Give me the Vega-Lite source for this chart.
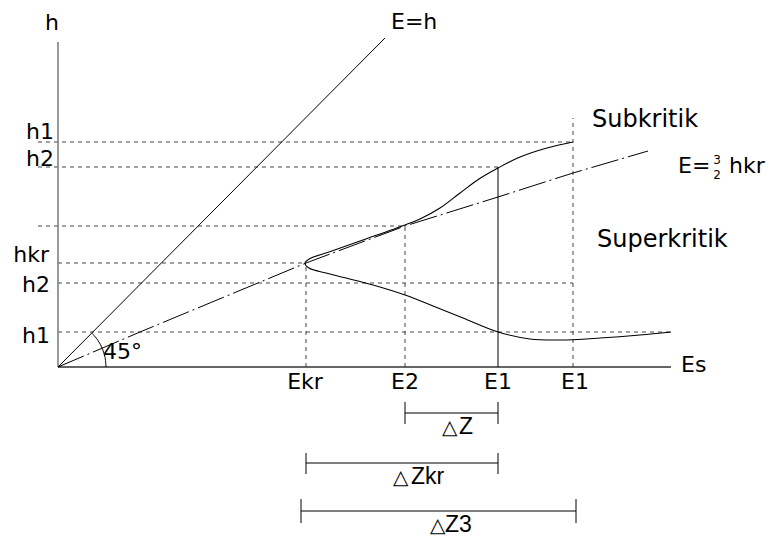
{
  "$schema": "https://vega.github.io/schema/vega-lite/v6.json",
  "width": 773,
  "height": 537,
  "autosize": {"type": "fit", "contains": "padding"},
  "padding": 0,
  "background": "white",
  "config": {"view": {"stroke": null}},
  "datasets": {
    "axes": [
      {"x1": 0, "y1": 0, "x2": 0, "y2": 325, "part": "y"},
      {"x1": 0, "y1": 0, "x2": 613, "y2": 0, "part": "x"}
    ],
    "solid": [
      {"x1": 0, "y1": 0, "x2": 327, "y2": 329},
      {"x1": 440, "y1": 0, "x2": 440, "y2": 200},
      {"x1": 347, "y1": -46, "x2": 440, "y2": -46},
      {"x1": 347, "y1": -35, "x2": 347, "y2": -57},
      {"x1": 440, "y1": -35, "x2": 440, "y2": -57},
      {"x1": 248, "y1": -96, "x2": 440, "y2": -96},
      {"x1": 248, "y1": -86, "x2": 248, "y2": -107},
      {"x1": 440, "y1": -86, "x2": 440, "y2": -107},
      {"x1": 243, "y1": -144, "x2": 518, "y2": -144},
      {"x1": 243, "y1": -132, "x2": 243, "y2": -156},
      {"x1": 518, "y1": -132, "x2": 518, "y2": -156}
    ],
    "dashed": [
      {"x1": -20, "y1": 225, "x2": 515, "y2": 225},
      {"x1": -20, "y1": 200, "x2": 440, "y2": 200},
      {"x1": -20, "y1": 141, "x2": 347, "y2": 141},
      {"x1": 0, "y1": 104, "x2": 248, "y2": 104},
      {"x1": 0, "y1": 84, "x2": 515, "y2": 84},
      {"x1": 0, "y1": 35, "x2": 613, "y2": 35},
      {"x1": 248, "y1": 0, "x2": 248, "y2": 104},
      {"x1": 347, "y1": 0, "x2": 347, "y2": 141},
      {"x1": 515, "y1": 0, "x2": 515, "y2": 249}
    ],
    "critical": [
      {"x": 0, "y": 0},
      {"x": 82, "y": 35},
      {"x": 248, "y": 104},
      {"x": 347, "y": 141},
      {"x": 440, "y": 170},
      {"x": 515, "y": 194},
      {"x": 590, "y": 216}
    ],
    "curve": [
      {"i": 1, "x": 515, "y": 225},
      {"i": 2, "x": 489, "y": 219},
      {"i": 3, "x": 462, "y": 210},
      {"i": 4, "x": 440, "y": 199},
      {"i": 5, "x": 421, "y": 188},
      {"i": 6, "x": 402, "y": 174},
      {"i": 7, "x": 382, "y": 159},
      {"i": 8, "x": 362, "y": 148},
      {"i": 9, "x": 347, "y": 142},
      {"i": 10, "x": 305, "y": 127},
      {"i": 11, "x": 271, "y": 115},
      {"i": 12, "x": 252, "y": 108.5},
      {"i": 13, "x": 247, "y": 104},
      {"i": 14, "x": 251, "y": 99},
      {"i": 15, "x": 268, "y": 94},
      {"i": 16, "x": 288, "y": 89},
      {"i": 17, "x": 315, "y": 82},
      {"i": 18, "x": 347, "y": 72},
      {"i": 19, "x": 375, "y": 61},
      {"i": 20, "x": 405, "y": 49},
      {"i": 21, "x": 440, "y": 35},
      {"i": 22, "x": 472, "y": 28},
      {"i": 23, "x": 502, "y": 27},
      {"i": 24, "x": 542, "y": 29},
      {"i": 25, "x": 582, "y": 32},
      {"i": 26, "x": 613, "y": 35}
    ],
    "arc": [
      {"i": 1, "x": 48, "y": 0},
      {"i": 2, "x": 47.1, "y": 9.4},
      {"i": 3, "x": 44.3, "y": 18.4},
      {"i": 4, "x": 39.9, "y": 26.7},
      {"i": 5, "x": 33.9, "y": 33.9}
    ],
    "leftLabels": [
      {"t": "h1", "x": -4, "y": 228},
      {"t": "h2", "x": -4, "y": 201},
      {"t": "hkr", "x": -9, "y": 105},
      {"t": "h2", "x": -8, "y": 75},
      {"t": "h1", "x": -8, "y": 24}
    ],
    "centerLabels": [
      {"t": "h", "x": -6, "y": 337},
      {"t": "Ekr", "x": 247, "y": -22},
      {"t": "E2", "x": 347, "y": -22},
      {"t": "E1", "x": 440, "y": -22},
      {"t": "E1", "x": 517, "y": -22}
    ],
    "startLabels": [
      {"t": "E=h", "x": 333, "y": 338},
      {"t": "45°", "x": 45, "y": 8},
      {"t": "Es", "x": 623, "y": -5},
      {"t": "E=", "x": 620, "y": 194},
      {"t": "hkr", "x": 671, "y": 194}
    ],
    "regionLabels": [
      {"t": "Subkritik", "x": 534, "y": 240},
      {"t": "Superkritik", "x": 539, "y": 120}
    ],
    "fraction": [
      {"t": "3", "x": 659, "y": 203},
      {"t": "2", "x": 659, "y": 188}
    ],
    "deltas": [
      {"x": 384, "y": -67},
      {"x": 335, "y": -117},
      {"x": 372, "y": -165}
    ],
    "deltaNames": [
      {"t": "Z", "x": 401, "y": -67},
      {"t": "Zkr", "x": 353, "y": -117},
      {"t": "Z3", "x": 387, "y": -165}
    ]
  },
  "encoding": {
    "x": {"field": "x", "type": "quantitative", "scale": {"domain": [-58, 715], "nice": false, "zero": false}, "axis": null},
    "y": {"field": "y", "type": "quantitative", "scale": {"domain": [-170, 367], "nice": false, "zero": false}, "axis": null}
  },
  "layer": [
    {
      "data": {"name": "dashed"},
      "mark": {"type": "rule", "color": "#444", "strokeWidth": 1, "strokeDash": [4, 4]},
      "encoding": {
        "x": {"field": "x1", "type": "quantitative", "scale": {"domain": [-58, 715], "nice": false, "zero": false}, "axis": null},
        "y": {"field": "y1", "type": "quantitative", "scale": {"domain": [-170, 367], "nice": false, "zero": false}, "axis": null},
        "x2": {"field": "x2"},
        "y2": {"field": "y2"}
      }
    },
    {
      "data": {"name": "axes"},
      "mark": {"type": "rule", "strokeWidth": 1.6},
      "encoding": {
        "x": {"field": "x1", "type": "quantitative", "scale": {"domain": [-58, 715], "nice": false, "zero": false}, "axis": null},
        "y": {"field": "y1", "type": "quantitative", "scale": {"domain": [-170, 367], "nice": false, "zero": false}, "axis": null},
        "x2": {"field": "x2"},
        "y2": {"field": "y2"},
        "color": {"field": "part", "type": "nominal", "scale": {"domain": ["x", "y"], "range": ["#333333", "#808080"]}, "legend": null}
      }
    },
    {
      "data": {"name": "solid"},
      "mark": {"type": "rule", "color": "#000", "strokeWidth": 1},
      "encoding": {
        "x": {"field": "x1", "type": "quantitative", "scale": {"domain": [-58, 715], "nice": false, "zero": false}, "axis": null},
        "y": {"field": "y1", "type": "quantitative", "scale": {"domain": [-170, 367], "nice": false, "zero": false}, "axis": null},
        "x2": {"field": "x2"},
        "y2": {"field": "y2"}
      }
    },
    {
      "data": {"name": "critical"},
      "mark": {"type": "line", "color": "#000", "strokeWidth": 1, "strokeDash": [28, 4, 2, 4]}
    },
    {
      "data": {"name": "curve"},
      "mark": {"type": "line", "color": "#000", "strokeWidth": 1.1, "interpolate": "catmull-rom"},
      "encoding": {"order": {"field": "i", "type": "quantitative"}}
    },
    {
      "data": {"name": "arc"},
      "mark": {"type": "line", "color": "#000", "strokeWidth": 1, "interpolate": "catmull-rom"},
      "encoding": {"order": {"field": "i", "type": "quantitative"}}
    },
    {
      "data": {"name": "leftLabels"},
      "mark": {"type": "text", "align": "right", "baseline": "alphabetic", "font": "DejaVu Sans", "fontSize": 22, "color": "#000"},
      "encoding": {"text": {"field": "t"}}
    },
    {
      "data": {"name": "centerLabels"},
      "mark": {"type": "text", "align": "center", "baseline": "alphabetic", "font": "DejaVu Sans", "fontSize": 22, "color": "#000"},
      "encoding": {"text": {"field": "t"}}
    },
    {
      "data": {"name": "startLabels"},
      "mark": {"type": "text", "align": "left", "baseline": "alphabetic", "font": "DejaVu Sans", "fontSize": 22, "color": "#000"},
      "encoding": {"text": {"field": "t"}}
    },
    {
      "data": {"name": "regionLabels"},
      "mark": {"type": "text", "align": "left", "baseline": "alphabetic", "font": "DejaVu Sans", "fontSize": 24, "color": "#000"},
      "encoding": {"text": {"field": "t"}}
    },
    {
      "data": {"name": "fraction"},
      "mark": {"type": "text", "align": "center", "baseline": "alphabetic", "font": "DejaVu Sans", "fontSize": 12, "color": "#000"},
      "encoding": {"text": {"field": "t"}}
    },
    {
      "data": {"name": "deltas"},
      "mark": {"type": "text", "align": "left", "baseline": "alphabetic", "font": "DejaVu Sans", "fontSize": 20, "color": "#000", "text": "△"}
    },
    {
      "data": {"name": "deltaNames"},
      "mark": {"type": "text", "align": "left", "baseline": "alphabetic", "font": "Liberation Sans", "fontSize": 23, "color": "#000"},
      "encoding": {"text": {"field": "t"}}
    }
  ]
}
